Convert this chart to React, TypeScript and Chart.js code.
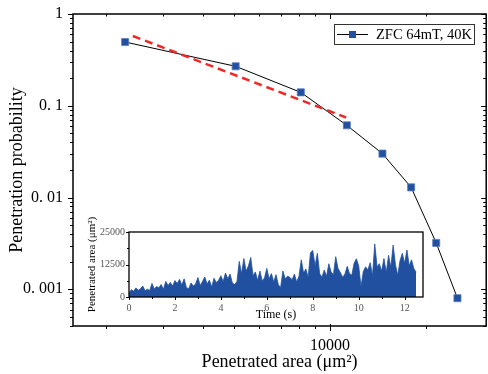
import React, { useEffect, useRef } from 'react';
import { Chart, registerables } from 'chart.js';

Chart.register(...registerables);

// ---------- main chart data ----------
const areaValues = [2290, 5070, 8100, 11280, 14570, 17910, 21450, 24990];
const probValues = [0.495, 0.269, 0.14, 0.0612, 0.0301, 0.0129, 0.0032, 0.0008];
const fitArea = [2420, 11220];
const fitProb = [0.576, 0.0745];
const seriesLabel = 'ZFC 64mT, 40K';

const yMajorTicks = [1, 0.1, 0.01, 0.001];
const yTickLabels = ['1', '0. 1', '0. 01', '0. 001'];
const yMinorTicks = [
  0.0004, 0.0005, 0.0006, 0.0007, 0.0008, 0.0009,
  0.002, 0.003, 0.004, 0.005, 0.006, 0.007, 0.008, 0.009,
  0.02, 0.03, 0.04, 0.05, 0.06, 0.07, 0.08, 0.09,
  0.2, 0.3, 0.4, 0.5, 0.6, 0.7, 0.8, 0.9,
];
const xMajorTicks = [10000];
const xTickLabels = ['10000'];
const xMinorTicks = [2000, 3000, 4000, 5000, 6000, 7000, 8000, 9000, 20000];

const X_MIN = 1574;
const X_MAX = 30730;
const Y_MIN = 0.000398;
const Y_MAX = 1;

// ---------- inset data ----------
const insetStep = 0.1; // s
const insetArea = [
  1500, 2800, 2200, 3500, 2600, 3200, 4200, 2400, 3000, 2500,
  5200, 3100, 4000, 3600, 4800, 3000, 6000, 4400, 5600, 4200,
  6300, 5200, 6800, 4600, 7000, 3600, 3200, 5400, 4200, 5000,
  7500, 4400, 6000, 7700, 5000, 6500, 3800, 7200, 5600, 6400,
  8200, 6000, 9200, 7000, 8800, 5400, 4800, 6000, 13700, 9000,
  14800, 10000, 12000, 15200, 8200, 9600, 6400, 10000, 6200, 7400,
  11000, 7000, 9000, 5800, 8600, 4800, 3600, 10000, 7000, 8000,
  7600, 6600, 8800, 5800, 8000, 14300, 9200, 10800, 7600, 17000,
  17900, 12000, 16800, 9000, 7600, 10400, 8000, 12800, 9600, 8600,
  15500, 11000, 9400, 7600, 8800, 11800, 9000, 8400, 13000, 14700,
  12000, 4000, 9800, 11600, 10400, 13200, 8200, 20400, 11600, 12800,
  10000, 14800, 9400, 16000, 11400, 20000, 12400, 8400, 14000, 16800,
  13000, 18100, 12000, 14300, 11000, 9500,
];
const insetXTicks = [0, 2, 4, 6, 8, 10, 12];
const insetXMinor = [1, 3, 5, 7, 9, 11];
const insetYTicks = [0, 12500, 25000];
const insetYMinor = [6250, 18750];

const SERIF = "'Liberation Serif', 'DejaVu Serif', serif";
const BLUE = '#2150A0';

const zeroPad = (s: any) => {
  s.paddingTop = 0;
  s.paddingBottom = 0;
  s.paddingLeft = 0;
  s.paddingRight = 0;
};

const mainFramePlugin = {
  id: 'mainFrame',
  afterDraw(chart: any) {
    const { ctx, chartArea, scales } = chart;
    const { left, right, top, bottom } = chartArea;
    const x = scales.x;
    const y = scales.y;
    ctx.save();
    ctx.strokeStyle = '#000';
    ctx.lineWidth = 1;
    const line = (x1: number, y1: number, x2: number, y2: number) => {
      ctx.beginPath();
      ctx.moveTo(x1, y1);
      ctx.lineTo(x2, y2);
      ctx.stroke();
    };
    yMajorTicks.forEach((v) => {
      const p = Math.round(y.getPixelForValue(v)) + 0.5;
      line(left - 5, p, left, p);
      line(right, p, right - 5, p);
    });
    yMinorTicks.forEach((v) => {
      const p = Math.round(y.getPixelForValue(v)) + 0.5;
      line(left - 3, p, left, p);
      line(right, p, right - 3, p);
    });
    xMajorTicks.forEach((v) => {
      const p = Math.round(x.getPixelForValue(v)) + 0.5;
      line(p, bottom - 2, p, bottom + 5);
      line(p, top, p, top + 5);
    });
    xMinorTicks.forEach((v) => {
      const p = Math.round(x.getPixelForValue(v)) + 0.5;
      line(p, bottom, p, bottom + 3);
      line(p, top, p, top + 2.5);
    });
    // frame
    ctx.lineWidth = 1.5;
    ctx.strokeRect(left, top, right - left, bottom - top);

    // legend
    ctx.lineWidth = 1;
    ctx.strokeStyle = '#333';
    ctx.strokeRect(334.5, 24.5, 140, 20);
    ctx.strokeStyle = '#000';
    line(337, 34.5, 368, 34.5);
    ctx.fillStyle = BLUE;
    ctx.fillRect(349, 31, 7, 7);
    ctx.fillStyle = '#000';
    ctx.font = `14.5px ${SERIF}`;
    ctx.textBaseline = 'middle';
    ctx.textAlign = 'left';
    ctx.fillText(seriesLabel, 376, 35);
    ctx.restore();
  },
};

const insetFramePlugin = {
  id: 'insetFrame',
  beforeDatasetsDraw(chart: any) {
    const { ctx, chartArea } = chart;
    ctx.save();
    ctx.fillStyle = '#fff';
    ctx.fillRect(chartArea.left, chartArea.top, chartArea.right - chartArea.left, chartArea.bottom - chartArea.top);
    ctx.restore();
  },
  afterDraw(chart: any) {
    const { ctx, chartArea, scales } = chart;
    const { left, right, top, bottom } = chartArea;
    ctx.save();
    ctx.strokeStyle = '#000';
    ctx.lineWidth = 1;
    const line = (x1: number, y1: number, x2: number, y2: number) => {
      ctx.beginPath();
      ctx.moveTo(x1, y1);
      ctx.lineTo(x2, y2);
      ctx.stroke();
    };
    insetXTicks.forEach((v) => {
      const p = Math.round(scales.x.getPixelForValue(v)) + 0.5;
      line(p, bottom, p, bottom + 3);
    });
    insetXMinor.forEach((v) => {
      const p = Math.round(scales.x.getPixelForValue(v)) + 0.5;
      line(p, bottom, p, bottom + 2);
    });
    insetYTicks.forEach((v) => {
      const p = Math.round(scales.y.getPixelForValue(v)) + 0.5;
      line(left - 3, p, left, p);
    });
    insetYMinor.forEach((v) => {
      const p = Math.round(scales.y.getPixelForValue(v)) + 0.5;
      line(left - 2, p, left, p);
    });
    ctx.lineWidth = 1.3;
    ctx.strokeRect(left, top, right - left, bottom - top);
    ctx.restore();
  },
};

export default function App() {
  const mainRef = useRef<HTMLCanvasElement>(null);
  const insetRef = useRef<HTMLCanvasElement>(null);

  useEffect(() => {
    const mainData = areaValues.map((a, i) => ({ x: a, y: probValues[i] }));
    const fitData = fitArea.map((a, i) => ({ x: a, y: fitProb[i] }));
    const main = new Chart(mainRef.current as HTMLCanvasElement, {
      type: 'line',
      data: {
        datasets: [
          {
            label: 'fit',
            data: fitData,
            borderColor: '#F02828',
            borderWidth: 2.5,
            borderDash: [8, 5],
            pointRadius: 0,
            fill: false,
            tension: 0,
          },
          {
            label: seriesLabel,
            data: mainData,
            borderColor: '#000',
            borderWidth: 1,
            pointStyle: 'rect',
            pointRadius: 5,
            pointBackgroundColor: BLUE,
            pointBorderColor: '#5A7DC0',
            pointBorderWidth: 0.8,
            fill: false,
            tension: 0,
          },
        ],
      },
      options: {
        responsive: false,
        animation: false,
        devicePixelRatio: 1,
        layout: { padding: { left: 0, right: 2, top: 14, bottom: 0 } },
        plugins: { legend: { display: false }, tooltip: { enabled: false } },
        scales: {
          x: {
            type: 'logarithmic',
            min: X_MIN,
            max: X_MAX,
            bounds: 'data',
            grid: { display: false, drawTicks: false },
            border: { display: false },
            afterBuildTicks: (s: any) => {
              s.ticks = xMajorTicks.map((v) => ({ value: v }));
            },
            afterFit: (s: any) => {
              s.height = 48;
              zeroPad(s);
            },
            ticks: {
              autoSkip: false,
              maxRotation: 0,
              padding: 10,
              color: '#000',
              font: { family: SERIF, size: 16 },
              callback: (_v: any, i: number) => xTickLabels[i] ?? '',
            },
            title: {
              display: true,
              text: 'Penetrated area (μm²)',
              color: '#000',
              font: { family: SERIF, size: 18 },
              padding: { top: 0, bottom: 1 },
            },
          },
          y: {
            type: 'logarithmic',
            min: Y_MIN,
            max: Y_MAX,
            bounds: 'data',
            grid: { display: false, drawTicks: false },
            border: { display: false },
            afterBuildTicks: (s: any) => {
              s.ticks = yMajorTicks.map((v) => ({ value: v }));
            },
            afterFit: (s: any) => {
              s.width = 73;
              zeroPad(s);
            },
            ticks: {
              autoSkip: false,
              padding: 10,
              color: '#000',
              font: { family: SERIF, size: 16 },
              callback: (_v: any, i: number) => yTickLabels[i] ?? '',
            },
            title: {
              display: true,
              text: 'Penetration probability',
              color: '#000',
              font: { family: SERIF, size: 18 },
              padding: { top: 6, bottom: 0 },
            },
          },
        },
      },
      plugins: [mainFramePlugin],
    } as any);

    const insetData = insetArea.map((v, i) => ({ x: Math.round(i * insetStep * 10) / 10, y: v }));
    const inset = new Chart(insetRef.current as HTMLCanvasElement, {
      type: 'line',
      data: {
        datasets: [
          {
            label: 'area',
            data: insetData,
            borderColor: BLUE,
            backgroundColor: BLUE,
            borderWidth: 0.8,
            pointRadius: 0,
            fill: 'origin',
            tension: 0,
          },
        ],
      },
      options: {
        responsive: false,
        animation: false,
        devicePixelRatio: 1,
        layout: { padding: { left: 0, right: 7, top: 36, bottom: 0 } },
        plugins: { legend: { display: false }, tooltip: { enabled: false } },
        scales: {
          x: {
            type: 'linear',
            min: 0,
            max: 12.8,
            grid: { display: false, drawTicks: false },
            border: { display: false },
            afterBuildTicks: (s: any) => {
              s.ticks = insetXTicks.map((v) => ({ value: v }));
            },
            afterFit: (s: any) => {
              s.height = 29;
              zeroPad(s);
            },
            ticks: {
              autoSkip: false,
              maxRotation: 0,
              padding: 5,
              color: '#555',
              font: { family: SERIF, size: 10 },
              callback: (v: any) => String(v),
            },
            title: {
              display: true,
              text: 'Time (s)',
              color: '#000',
              font: { family: SERIF, size: 12 },
              padding: { top: 0, bottom: 4 },
            },
          },
          y: {
            type: 'linear',
            min: 0,
            max: 25000,
            grid: { display: false, drawTicks: false },
            border: { display: false },
            afterBuildTicks: (s: any) => {
              s.ticks = insetYTicks.map((v) => ({ value: v }));
            },
            afterFit: (s: any) => {
              s.width = 49;
              zeroPad(s);
            },
            ticks: {
              autoSkip: false,
              padding: 4,
              color: '#555',
              font: { family: SERIF, size: 10 },
              callback: (v: any) => String(v),
            },
            title: {
              display: true,
              text: 'Penetrated area (μm²)',
              color: '#000',
              font: { family: SERIF, size: 11 },
              padding: { top: 6, bottom: 0 },
            },
          },
        },
      },
      plugins: [insetFramePlugin],
    } as any);

    return () => {
      main.destroy();
      inset.destroy();
    };
  }, []);

  return (
    <div
      style={{
        position: 'fixed',
        left: 0,
        top: 0,
        width: 488,
        height: 374,
        background: '#fff',
        overflow: 'hidden',
      }}
    >
      <canvas
        ref={mainRef}
        width={492}
        height={374}
        style={{ position: 'absolute', left: 0, top: 0, width: 492, height: 374 }}
      />
      <canvas
        ref={insetRef}
        width={350}
        height={130}
        style={{ position: 'absolute', left: 80, top: 196, width: 350, height: 130 }}
      />
    </div>
  );
}
